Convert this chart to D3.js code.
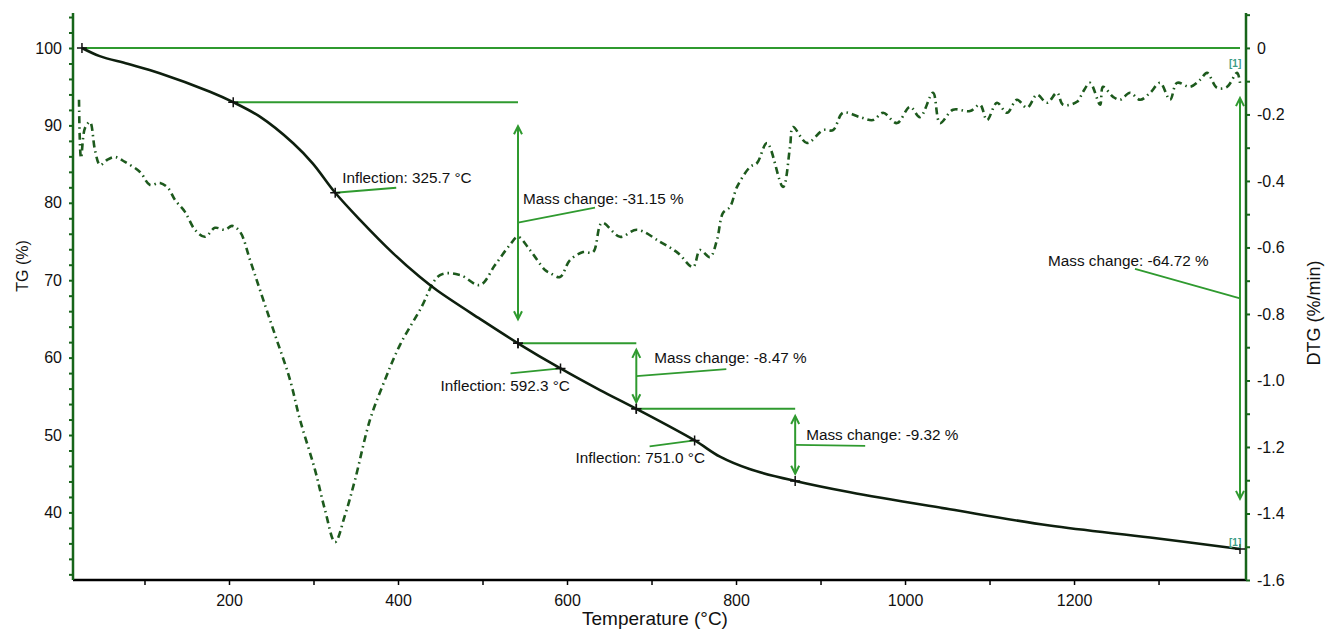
<!DOCTYPE html>
<html>
<head>
<meta charset="utf-8">
<script src="https://cdn.jsdelivr.net/npm/d3@7"></script>
<style>
html,body{margin:0;padding:0;background:#fff;}
text{font-family:"Liberation Sans",Arial,Helvetica,sans-serif;}
</style>
</head>
<body>
<svg id="chart" width="1325" height="631"></svg>
<script>
// ---------------- DATA ----------------
const tgTemp = [26, 47, 80, 118, 177.5, 205, 237, 276, 299, 325.7, 355, 394, 426, 446, 497, 542, 592.3, 639, 682, 751, 781, 816, 870, 935, 1053, 1171, 1290, 1396.4];
const tgValue = [100, 98.95, 97.95, 96.75, 94.35, 93.0, 91.1, 87.7, 85.1, 81.3, 77.8, 73.5, 70.4, 68.7, 65.0, 61.85, 58.6, 55.8, 53.38, 49.3, 47.2, 45.6, 44.06, 42.6, 40.4, 38.3, 36.75, 35.28];

const dtgTemp = [22.5, 24.9, 29.6, 35.5, 41.4, 47.4, 55.6, 65.1, 76.9, 94.7, 106.5, 118.4, 127.8, 136.1, 147.9, 159.8, 171.6, 183.4, 195.3, 203.6, 213.1, 224.9, 236.7, 254.5, 272.2, 284.0, 301.8, 313.6, 325.5, 337.3, 349.1, 366.9, 384.6, 402.4, 426.0, 449.7, 473.4, 497.0, 514.8, 532.5, 542.0, 556.2, 574.0, 580.0, 591.7, 603.5, 619.0, 630.8, 641.4, 662.7, 682.8, 710.1, 731.4, 749.1, 757.4, 769.2, 777.5, 784.6, 792.9, 801.2, 816.6, 824.9, 836.7, 855.6, 863.9, 867.5, 884.0, 903.0, 914.8, 926.6, 946.7, 962.1, 974.0, 990.5, 1005.9, 1017.7, 1033.1, 1041.4, 1056.8, 1076.9, 1088.7, 1097.0, 1108.8, 1120.7, 1132.5, 1144.4, 1156.2, 1168.0, 1179.9, 1187.0, 1203.5, 1210.7, 1219.0, 1230.8, 1234.3, 1246.2, 1254.5, 1266.3, 1278.2, 1290.0, 1301.8, 1313.6, 1321.9, 1337.3, 1349.2, 1357.4, 1369.3, 1381.1, 1392.9, 1396.4];
const dtgValue = [-0.156, -0.331, -0.241, -0.223, -0.307, -0.352, -0.337, -0.328, -0.343, -0.373, -0.412, -0.406, -0.421, -0.457, -0.493, -0.547, -0.568, -0.541, -0.547, -0.535, -0.553, -0.638, -0.728, -0.863, -0.998, -1.118, -1.269, -1.389, -1.486, -1.405, -1.299, -1.118, -0.998, -0.893, -0.788, -0.683, -0.683, -0.713, -0.653, -0.592, -0.568, -0.608, -0.668, -0.677, -0.689, -0.638, -0.614, -0.614, -0.526, -0.568, -0.547, -0.583, -0.617, -0.659, -0.608, -0.629, -0.577, -0.496, -0.478, -0.418, -0.358, -0.346, -0.286, -0.418, -0.298, -0.238, -0.286, -0.247, -0.247, -0.195, -0.208, -0.217, -0.195, -0.226, -0.177, -0.208, -0.135, -0.226, -0.186, -0.19, -0.171, -0.217, -0.165, -0.195, -0.156, -0.180, -0.141, -0.165, -0.135, -0.171, -0.162, -0.132, -0.105, -0.171, -0.117, -0.147, -0.156, -0.135, -0.156, -0.135, -0.105, -0.156, -0.105, -0.117, -0.096, -0.075, -0.120, -0.117, -0.075, -0.105];

// mass-change steps
const stepStartT = [205, 542, 682, 26];
const stepEndT = [542, 682, 870, 1396.4];
const stepStartTG = [93.0, 61.85, 53.38, 100];
const stepEndTG = [61.85, 53.38, 44.06, 35.28];
const stepLabels = ["Mass change: -31.15 %", "Mass change: -8.47 %", "Mass change: -9.32 %", "Mass change: -64.72 %"];

// inflection points
const inflT = [325.7, 592.3, 751.0];
const inflTG = [81.3, 58.6, 49.3];
const inflLabels = ["Inflection: 325.7 \u00B0C", "Inflection: 592.3 \u00B0C", "Inflection: 751.0 \u00B0C"];

// ticks
const xTicks = [100, 200, 300, 400, 500, 600, 700, 800, 900, 1000, 1100, 1200, 1300];
const xLabels = [200, 400, 600, 800, 1000, 1200];
const tgTicks = d3.range(32, 105, 2);
const tgLabels = [40, 50, 60, 70, 80, 90, 100];
const dtgTicks = d3.range(-16, 2, 1).map(d => d / 10);
const dtgLabels = [0, -0.2, -0.4, -0.6, -0.8, -1.0, -1.2, -1.4, -1.6];

// ---------------- LAYOUT ----------------
const X0 = 73, X1 = 1246, YT = 13, YB = 580;
const svg = d3.select("#chart");
const x = d3.scaleLinear().domain([15.4, 1403.5]).range([X0, X1]);
const yL = d3.scaleLinear().domain([31.27, 104.52]).range([YB, YT]);
const yR = d3.scaleLinear().domain([-1.6, 0.105]).range([YB, YT]);

const axisGreen = "#17651a";
const annGreen = "#2f9a2f";

// bottom axis
const gx = svg.append("g").attr("transform", `translate(0,${YB})`)
  .call(d3.axisBottom(x).tickValues(xTicks).tickSize(5).tickPadding(10)
    .tickFormat(d => xLabels.includes(d) ? d : ""));
gx.select(".domain").remove();
gx.selectAll(".tick line").attr("stroke", "#000").attr("stroke-width", 1.5);
gx.selectAll("text").attr("font-size", 16).attr("fill", "#111");
svg.append("line").attr("x1", X0).attr("x2", X1).attr("y1", YB).attr("y2", YB)
  .attr("stroke", "#000").attr("stroke-width", 2.5);

// left axis
const gl = svg.append("g").attr("transform", `translate(${X0},0)`)
  .call(d3.axisLeft(yL).tickValues(tgTicks).tickSize(4).tickPadding(7)
    .tickFormat(d => tgLabels.includes(d) ? d : ""));
gl.select(".domain").remove();
gl.selectAll(".tick line").attr("stroke", axisGreen).attr("stroke-width", 2);
gl.selectAll("text").attr("font-size", 16).attr("fill", "#111");
svg.append("line").attr("x1", X0).attr("x2", X0).attr("y1", YT).attr("y2", YB)
  .attr("stroke", axisGreen).attr("stroke-width", 2.5);

// right axis
const gr = svg.append("g").attr("transform", `translate(${X1},0)`)
  .call(d3.axisRight(yR).tickValues(dtgTicks).tickSize(4).tickPadding(7)
    .tickFormat(d => {
      const r = Math.round(d * 10) / 10;
      if (!dtgLabels.some(v => Math.abs(v - r) < 1e-9)) return "";
      return r === 0 ? "0" : r.toFixed(1);
    }));
gr.select(".domain").remove();
gr.selectAll(".tick line").attr("stroke", axisGreen).attr("stroke-width", 2);
gr.selectAll("text").attr("font-size", 16).attr("fill", "#111");
svg.append("line").attr("x1", X1).attr("x2", X1).attr("y1", YT).attr("y2", YB)
  .attr("stroke", axisGreen).attr("stroke-width", 2.5);

// axis titles
svg.append("text").attr("transform", `translate(28,266) rotate(-90)`)
  .attr("text-anchor", "middle").attr("font-size", 16).attr("fill", "#111").text("TG (%)");
svg.append("text").attr("transform", `translate(1320,313) rotate(-90)`)
  .attr("text-anchor", "middle").attr("font-size", 18).attr("fill", "#111").text("DTG (%/min)");
svg.append("text").attr("x", 655).attr("y", 625)
  .attr("text-anchor", "middle").attr("font-size", 19).attr("fill", "#111").text("Temperature (\u00B0C)");

// ---------------- ANNOTATIONS (lines) ----------------
const ann = svg.append("g").attr("stroke", annGreen).attr("stroke-width", 2).attr("fill", "none");

const stepLabelOff = [[77, -15, 5, -24.5], [90, -7, 18, -18], [70, 1, 11, -10], [-105, -29.5, -192, -37.5]];

stepStartT.forEach((t0, i) => {
  const t1 = stepEndT[i];
  const ya = yL(stepStartTG[i]), yb = yL(stepEndTG[i]);
  const xa = x(t0), xb = x(t1);
  ann.append("line").attr("x1", xa).attr("x2", xb).attr("y1", ya).attr("y2", ya);
  const span = yb - ya, inset = span * 0.1;
  const top = ya + inset, bot = yb - inset;
  ann.append("line").attr("x1", xb).attr("x2", xb).attr("y1", top).attr("y2", bot);
  ann.append("path").attr("d", `M${xb - 4},${top + 8}L${xb},${top}L${xb + 4},${top + 8}`);
  ann.append("path").attr("d", `M${xb - 4},${bot - 8}L${xb},${bot}L${xb + 4},${bot - 8}`);
  const mid = (ya + yb) / 2;
  const o = stepLabelOff[i];
  ann.append("line").attr("x1", xb).attr("y1", mid).attr("x2", xb + o[0]).attr("y2", mid + o[1]).attr("stroke-width", 1.8);
  svg.append("text").attr("x", xb + o[2]).attr("y", mid + o[3]).attr("dy", "0.35em")
    .attr("font-size", 15.3).attr("fill", "#111").text(stepLabels[i]);
});

const inflOff = [[61, -5, 7, -15], [-50, 5, -120, 17], [-45, 6, -119, 17]];
inflT.forEach((t, i) => {
  const px = x(t), py = yL(inflTG[i]);
  const o = inflOff[i];
  ann.append("line").attr("x1", px).attr("y1", py).attr("x2", px + o[0]).attr("y2", py + o[1]).attr("stroke-width", 1.8);
  svg.append("text").attr("x", px + o[2]).attr("y", py + o[3]).attr("dy", "0.35em")
    .attr("font-size", 15.3).attr("fill", "#111").text(inflLabels[i]);
});

// ---------------- CURVES ----------------
const dtgLine = d3.line().x((d, i) => x(dtgTemp[i])).y(d => yR(d)).curve(d3.curveCatmullRom.alpha(0.5));
svg.append("path").datum(dtgValue).attr("d", dtgLine)
  .attr("fill", "none").attr("stroke", "#1d5a1d").attr("stroke-width", 2.6)
  .attr("stroke-dasharray", "7,4,1.5,4");

const tgLine = d3.line().x((d, i) => x(tgTemp[i])).y(d => yL(d)).curve(d3.curveCatmullRom.alpha(0.5));
svg.append("path").datum(tgValue).attr("d", tgLine)
  .attr("fill", "none").attr("stroke", "#0e1f0e").attr("stroke-width", 2.6);

// ---------------- MARKERS ----------------
const markT = stepStartT.concat(stepEndT).concat(inflT);
const markV = stepStartTG.concat(stepEndTG).concat(inflTG);
const mk = svg.append("g").attr("stroke", "#111").attr("stroke-width", 1.5);
markT.forEach((t, i) => {
  const px = x(t), py = yL(markV[i]);
  mk.append("path").attr("d", `M${px - 5},${py}H${px + 5}M${px},${py - 5}V${py + 5}`);
});

// [1] tags
[stepStartTG[3], stepEndTG[3]].forEach((v, i) => {
  svg.append("text").attr("x", x(stepEndT[3]) - 11).attr("y", yL(i === 0 ? 97.5 : v) + (i === 0 ? 0 : -3))
    .attr("font-size", 10).attr("font-weight", "bold").attr("fill", "#3d9c86").text("[1]");
});
</script>
</body>
</html>
